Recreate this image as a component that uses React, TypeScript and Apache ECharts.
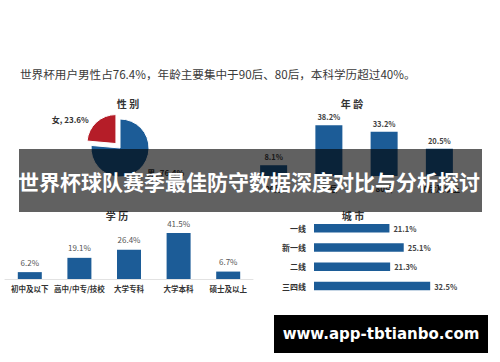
import React, { useEffect, useRef } from "react";
import * as echarts from "echarts";

const pageTitle = "世界杯用户男性占76.4%，年龄主要集中于90后、80后，本科学历超过40%。";
const bandTitle = "世界杯球队赛季最佳防守数据深度对比与分析探讨";
const watermark = "www.app-tbtianbo.com";

const genderNames = ["男", "女"];
const genderValues = [76.4, 23.6];

const ageCategories = ["00后", "90后", "80后", "70后及以上"];
const ageValues = [8.1, 38.2, 33.2, 20.5];

const eduCategories = ["初中及以下", "高中/中专/技校", "大学专科", "大学本科", "硕士及以上"];
const eduValues = [6.2, 19.1, 26.4, 41.5, 6.7];

const cityCategories = ["一线", "新一线", "二线", "三四线"];
const cityValues = [21.1, 25.1, 21.3, 32.5];

const FONT = "Noto Sans CJK SC";
const BLUE = "#1c5c97";
const RED = "#b51d28";

export default function App() {
  const ref = useRef<HTMLDivElement>(null);
  useEffect(() => {
    document.body.style.margin = "0";
    const chart = echarts.init(ref.current!, undefined, { renderer: "svg" });
    const smallTitle = (text: string, x: number, y: number) => ({
      type: "text",
      x,
      y,
      style: {
        text,
        fill: "#333",
        font: `bold 10px "${FONT}"`,
        align: "center",
        verticalAlign: "middle",
      },
    });
    chart.setOption({
      animation: false,
      backgroundColor: "#ffffff",
      textStyle: { fontFamily: FONT },
      grid: [
        { left: 246, right: 33, top: 109.5, bottom: 362 - 176 },
        { left: 5, right: 247, top: 223.6, bottom: 362 - 279 },
        { left: 314, right: 43, top: 218.5, bottom: 66.3 },
      ],
      xAxis: [
        {
          gridIndex: 0,
          type: "category",
          data: ageCategories,
          axisLine: { show: false },
          axisTick: { show: false },
          axisLabel: { fontSize: 8, fontWeight: "bold", color: "#333", margin: 8 },
        },
        {
          gridIndex: 1,
          type: "category",
          data: eduCategories,
          axisLine: { show: true, lineStyle: { color: "#e2e2e2" } },
          axisTick: { show: false },
          axisLabel: { fontSize: 7.5, fontWeight: "bold", color: "#333", margin: 6, interval: 0 },
        },
        {
          gridIndex: 2,
          type: "value",
          min: 0,
          max: 40,
          show: false,
        },
      ],
      yAxis: [
        { gridIndex: 0, type: "value", min: 0, max: 50, show: false },
        { gridIndex: 1, type: "value", min: 0, max: 50, show: false },
        {
          gridIndex: 2,
          type: "category",
          inverse: true,
          data: cityCategories,
          axisLine: { show: false },
          axisTick: { show: false },
          axisLabel: { fontSize: 8, fontWeight: "bold", color: "#333", margin: 8 },
        },
      ],
      series: [
        {
          type: "pie",
          center: [120, 148],
          radius: 29,
          startAngle: 90,
          selectedMode: "single",
          selectedOffset: 6,
          label: {
            show: true,
            position: "outside",
            formatter: "{b}, {c}%",
            fontSize: 8,
            fontWeight: "bold",
            color: "#333",
          },
          labelLine: { show: false, length: 4, length2: 0 },
          data: genderNames.map((n, i) => ({
            name: n,
            value: genderValues[i],
            selected: i === 1,
            itemStyle: { color: i === 0 ? BLUE : RED, borderColor: "#fff", borderWidth: 1 },
          })),
        },
        {
          type: "bar",
          xAxisIndex: 0,
          yAxisIndex: 0,
          data: ageValues,
          barWidth: 27,
          itemStyle: { color: BLUE },
          label: {
            show: true,
            position: "top",
            formatter: "{c}%",
            fontSize: 7.5,
            fontWeight: "bold",
            color: "#444",
            distance: 5,
          },
        },
        {
          type: "bar",
          xAxisIndex: 1,
          yAxisIndex: 1,
          data: eduValues,
          barWidth: 24,
          itemStyle: { color: BLUE },
          label: {
            show: true,
            position: "top",
            formatter: "{c}%",
            fontSize: 8,
            color: "#555",
            distance: 6,
          },
        },
        {
          type: "bar",
          xAxisIndex: 2,
          yAxisIndex: 2,
          data: cityValues,
          barWidth: 8.5,
          itemStyle: { color: BLUE },
          label: {
            show: true,
            position: "right",
            formatter: "{c}%",
            fontSize: 7.5,
            fontWeight: "bold",
            color: "#444",
            distance: 4,
          },
        },
      ],
      graphic: [
        {
          type: "text",
          x: 20,
          y: 74,
          style: {
            text: pageTitle,
            fill: "#3a3a3a",
            font: `11.6px "${FONT}"`,
            verticalAlign: "middle",
          },
        },
        smallTitle("性 别", 128, 103),
        smallTitle("年 龄", 352, 103),
        smallTitle("学 历", 117, 215),
        smallTitle("城 市", 353, 215),
        {
          type: "rect",
          z: 100,
          shape: { x: 19, y: 149, width: 463, height: 63 },
          style: { fill: "rgba(0,0,0,0.62)" },
        },
        {
          type: "text",
          z: 101,
          x: 249,
          y: 181,
          style: {
            text: bandTitle,
            fill: "#ffffff",
            font: `bold 21px "${FONT}"`,
            align: "center",
            verticalAlign: "middle",
          },
        },
        {
          type: "rect",
          z: 100,
          shape: { x: 274, y: 315, width: 214, height: 38 },
          style: { fill: "#000000" },
        },
        {
          type: "text",
          z: 101,
          x: 381,
          y: 334,
          style: {
            text: watermark,
            fill: "#ffffff",
            font: `bold 15px "DejaVu Sans"`,
            align: "center",
            verticalAlign: "middle",
          },
        },
      ],
    });
    return () => chart.dispose();
  }, []);
  return <div ref={ref} style={{ width: 500, height: 362 }} />;
}
